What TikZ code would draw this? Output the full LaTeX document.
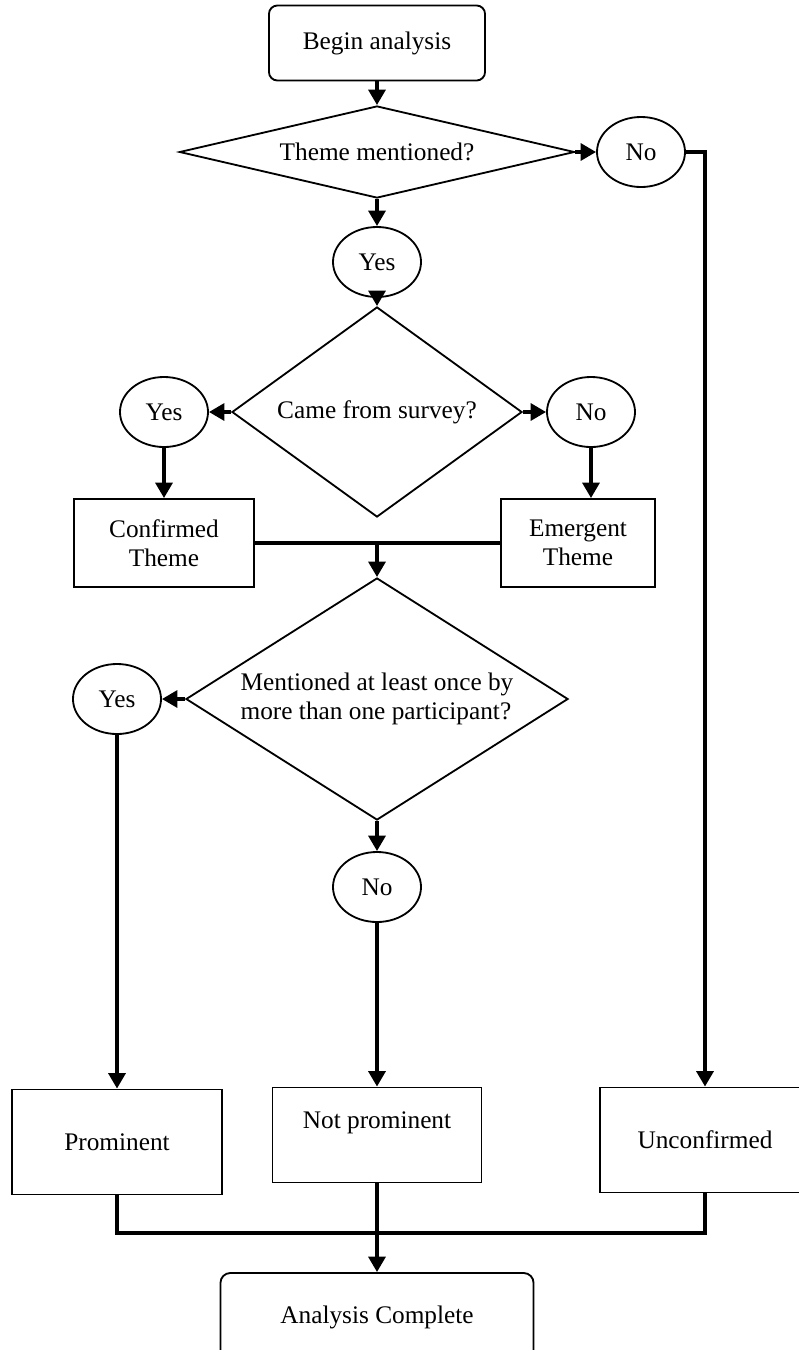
\documentclass[tikz,border=0pt]{standalone}
\usepackage{fontspec}
\setmainfont{Liberation Serif}
\usetikzlibrary{shapes.geometric,arrows.meta}

\begin{document}
\begin{tikzpicture}[x=0.025cm,y=-0.025cm,font=\fontsize{18}{20.5}\selectfont]
\tikzset{
% Node styles for the flow chart: terminal, decision, answer and box
term/.style={rectangle,draw,rounded corners=6pt,line width=1.3pt,minimum width=5.4cm,minimum height=1.875cm},
decision/.style={diamond,draw,line width=1.3pt,inner sep=0pt},
answer/.style={ellipse,draw,line width=1.3pt,inner sep=0pt,minimum width=2.2cm,minimum height=1.75cm},
box/.style={rectangle,draw,line width=1.3pt,align=center,inner sep=0pt},
flow/.style={line width=2.6pt,-{Triangle[length=11pt,width=12pt]}},
link/.style={line width=2.6pt}
}
\useasboundingbox (0,0) rectangle (799,1350);

% The nodes
\node(begin)[term] at (377,43) {Begin analysis};
\node(theme)[decision,minimum width=9.875cm,minimum height=2.3cm,aspect=4.3] at (377,152) {Theme mentioned?};
\node(no1)[answer] at (641,152) {No};
\node(yes1)[answer] at (377,262) {Yes};
\node(survey)[decision,minimum width=7.25cm,minimum height=5.25cm,aspect=1.38] at (377,412) {Came from survey?};
\node(yes2)[answer] at (164,412) {Yes};
\node(no2)[answer] at (591,412) {No};
\node(confirmed)[box,minimum width=4.5cm,minimum height=2.2cm] at (164,543) {Confirmed\\Theme};
\node(emergent)[box,minimum width=3.85cm,minimum height=2.2cm] at (578,543) {Emergent\\Theme};
\node(mentioned)[decision,minimum width=9.55cm,minimum height=6.05cm,aspect=1.58,align=left] at (377,699) {Mentioned at least once by\\more than one participant?};
\node(yes3)[answer] at (117,699) {Yes};
\node(no3)[answer] at (377,887) {No};
\node(prominent)[box,minimum width=5.25cm,minimum height=2.625cm] at (117,1142) {Prominent};
\node(notprom)[box,minimum width=5.225cm,minimum height=2.375cm,text depth=0.74cm] at (377,1135) {Not prominent};
\node(unconf)[box,minimum width=5.25cm,minimum height=2.625cm] at (705,1140) {Unconfirmed};
\node(complete)[term,rounded corners=7pt,minimum width=7.825cm,minimum height=2.2cm] at (377,1317) {Analysis Complete};

% Flow from top to bottom
\draw[flow] (begin.south) -- (theme.north);
\draw[flow] (theme.east) -- (no1.west);
\draw[flow] (theme.south) -- (yes1.north);
\draw[flow] (yes1.south) -- (survey.north);
\draw[flow] (survey.west) -- (yes2.east);
\draw[flow] (survey.east) -- (no2.west);
\draw[flow] (yes2.south) -- (confirmed.north);
\draw[flow] (no2.south) -- (no2.south |- emergent.north);
\draw[link] (confirmed.east) -- (emergent.west);
\draw[flow] (confirmed.east -| mentioned.north) -- (mentioned.north);
\draw[flow] (mentioned.west) -- (yes3.east);
\draw[flow] (mentioned.south) -- (no3.north);
\draw[flow] (yes3.south) -- (prominent.north);
\draw[flow] (no3.south) -- (notprom.north);
\draw[flow] (no1.east) -| (unconf.north);

% closing lines
\coordinate(merge) at (377,1233);
\draw[link] (prominent.south) |- (merge) -| (unconf.south);
\draw[flow] (notprom.south) -- (complete.north);
\end{tikzpicture}
\end{document}
